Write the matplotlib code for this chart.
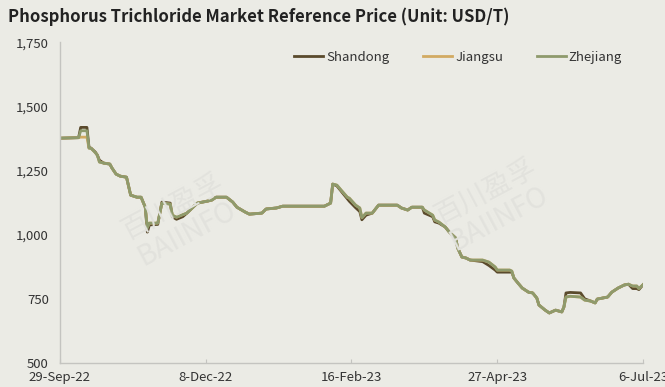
import matplotlib
matplotlib.use("Agg")
import matplotlib.pyplot as plt
import matplotlib.dates as mdates
import matplotlib.ticker as mticker
import pandas as pd

# data (USD/T)
dates = [
    "2022-09-29", "2022-10-08", "2022-10-09", "2022-10-12", "2022-10-13", "2022-10-14",
    "2022-10-16", "2022-10-17", "2022-10-18", "2022-10-20", "2022-10-23", "2022-10-24",
    "2022-10-26", "2022-10-28", "2022-10-31", "2022-11-02", "2022-11-05", "2022-11-07",
    "2022-11-09", "2022-11-10", "2022-11-11", "2022-11-15", "2022-11-17", "2022-11-21",
    "2022-11-22", "2022-11-24", "2022-11-27", "2022-11-29", "2022-12-04", "2022-12-09",
    "2022-12-11", "2022-12-13", "2022-12-18", "2022-12-21", "2022-12-23", "2022-12-27",
    "2022-12-29", "2023-01-04", "2023-01-06", "2023-01-11", "2023-01-14", "2023-02-03",
    "2023-02-06", "2023-02-07", "2023-02-09", "2023-02-11", "2023-02-14", "2023-02-15",
    "2023-02-18", "2023-02-20", "2023-02-21", "2023-02-23", "2023-02-26", "2023-03-01",
    "2023-03-10", "2023-03-12", "2023-03-15", "2023-03-17", "2023-03-22", "2023-03-23",
    "2023-03-27", "2023-03-28", "2023-03-30", "2023-04-02", "2023-04-04", "2023-04-07",
    "2023-04-08", "2023-04-10", "2023-04-12", "2023-04-14", "2023-04-20", "2023-04-23",
    "2023-04-26", "2023-04-27", "2023-05-03", "2023-05-04", "2023-05-05", "2023-05-07",
    "2023-05-09", "2023-05-12", "2023-05-14", "2023-05-16", "2023-05-17", "2023-05-20",
    "2023-05-22", "2023-05-25", "2023-05-28", "2023-05-29", "2023-05-30", "2023-06-01",
    "2023-06-06", "2023-06-08", "2023-06-11", "2023-06-13", "2023-06-14", "2023-06-19",
    "2023-06-21", "2023-06-24", "2023-06-27", "2023-06-29", "2023-07-01", "2023-07-03",
    "2023-07-04", "2023-07-06",
]

zhejiang = [
    1376, 1378, 1405, 1405, 1337, 1337, 1320, 1310, 1283, 1279, 1275, 1260,
    1236, 1228, 1224, 1154, 1146, 1146, 1107, 1026, 1045, 1045, 1123, 1119,
    1076, 1068, 1078, 1084, 1123, 1131, 1135, 1146, 1146, 1127, 1107, 1088,
    1080, 1084, 1100, 1104, 1111, 1111, 1123, 1197, 1193, 1174, 1146, 1142,
    1115, 1104, 1066, 1084, 1084, 1115, 1115, 1104, 1096, 1107, 1107, 1096,
    1076, 1057, 1049, 1030, 1010, 987, 948, 913, 909, 901, 901, 893,
    874, 862, 862, 858, 831, 811, 792, 776, 773, 753, 726, 706,
    695, 706, 699, 718, 757, 760, 757, 745, 741, 734, 749, 757,
    776, 792, 804, 807, 800, 800, 790, 805,
]

shandong = [
    1376, 1378, 1418, 1418, 1340, 1337, 1322, 1310, 1290, 1279, 1275, 1260,
    1236, 1228, 1224, 1154, 1146, 1146, 1107, 1010, 1038, 1040, 1127, 1123,
    1070, 1060, 1070, 1084, 1123, 1131, 1135, 1146, 1146, 1127, 1107, 1088,
    1080, 1084, 1100, 1104, 1111, 1111, 1123, 1197, 1190, 1170, 1140, 1130,
    1105, 1090, 1058, 1076, 1084, 1115, 1115, 1104, 1096, 1107, 1107, 1084,
    1070, 1050, 1045, 1030, 1010, 987, 948, 913, 909, 901, 895, 880,
    862, 854, 854, 854, 831, 811, 792, 776, 773, 753, 726, 706,
    695, 706, 699, 718, 773, 775, 773, 750, 741, 734, 749, 757,
    776, 792, 804, 807, 790, 790, 786, 805,
]

jiangsu = [
    1376, 1378, 1380, 1380, 1337, 1337, 1320, 1310, 1283, 1279, 1275, 1260,
    1236, 1228, 1224, 1154, 1146, 1146, 1107, 1030, 1045, 1045, 1123, 1119,
    1076, 1068, 1078, 1084, 1123, 1131, 1135, 1146, 1146, 1127, 1107, 1088,
    1080, 1084, 1100, 1104, 1111, 1111, 1123, 1197, 1193, 1174, 1146, 1142,
    1115, 1104, 1066, 1084, 1084, 1115, 1115, 1104, 1096, 1107, 1107, 1096,
    1076, 1057, 1049, 1030, 1010, 987, 948, 913, 909, 901, 901, 893,
    874, 862, 862, 858, 831, 811, 792, 776, 773, 753, 726, 706,
    695, 706, 699, 718, 757, 760, 757, 745, 741, 734, 749, 757,
    776, 792, 804, 807, 800, 800, 790, 805,
]

series_names = ["Shandong", "Jiangsu", "Zhejiang"]
series_colors = ["#5a4a2c", "#d2aa62", "#8e9a6c"]
tick_dates = ["2022-09-29", "2022-12-08", "2023-02-16", "2023-04-27", "2023-07-06"]

bg = "#ebebe5"
plt.rcParams["font.family"] = ["Noto Sans CJK SC", "DejaVu Sans"]

x = pd.to_datetime(dates)
fig = plt.figure(figsize=(6.65, 3.87), dpi=100, facecolor=bg)
ax = fig.add_axes([0.090, 0.062, 0.877, 0.829], facecolor=bg)

# faint watermarks
for wx, wy in [(0.27, 0.43), (0.74, 0.47)]:
    fig.text(wx, wy, "百川盈孚\nBAIINFO", fontsize=20, color="#e2e2dd", rotation=28,
             ha="center", va="center", linespacing=1.0, zorder=0)

for vals, name, col in zip([shandong, jiangsu, zhejiang], series_names, series_colors):
    ax.plot(x, vals, color=col, lw=2.0, label=name, solid_joinstyle="round")

ax.set_ylim(500, 1750)
ax.set_xlim(pd.Timestamp(tick_dates[0]), pd.Timestamp(tick_dates[-1]))
ax.yaxis.set_major_locator(mticker.MultipleLocator(250))
ax.yaxis.set_major_formatter(mticker.FuncFormatter(lambda v, p: f"{int(v):,}"))
ax.set_xticks(pd.to_datetime(tick_dates))
ax.xaxis.set_major_formatter(mdates.DateFormatter("%-d-%b-%y"))

for s in ["top", "right"]:
    ax.spines[s].set_visible(False)
for s in ["left", "bottom"]:
    ax.spines[s].set_color("#c4c4c0")
    ax.spines[s].set_linewidth(1.0)

ax.tick_params(axis="y", length=0, pad=8, labelsize=9.5, labelcolor="#333333")
ax.tick_params(axis="x", direction="in", length=3, color="#c4c4c0", pad=6,
               labelsize=9.5, labelcolor="#333333")

ax.legend(loc="center", bbox_to_anchor=(0.683, 0.953), ncol=3, frameon=False,
          fontsize=9.5, handlelength=2.2, handletextpad=0.2, columnspacing=2.6,
          labelcolor="#333333")

fig.text(0.012, 0.958, "Phosphorus Trichloride Market Reference Price (Unit: USD/T)",
         fontsize=12, fontweight="bold", color="#222222", ha="left", va="center")

fig.savefig("out.png", dpi=100, facecolor=bg)
